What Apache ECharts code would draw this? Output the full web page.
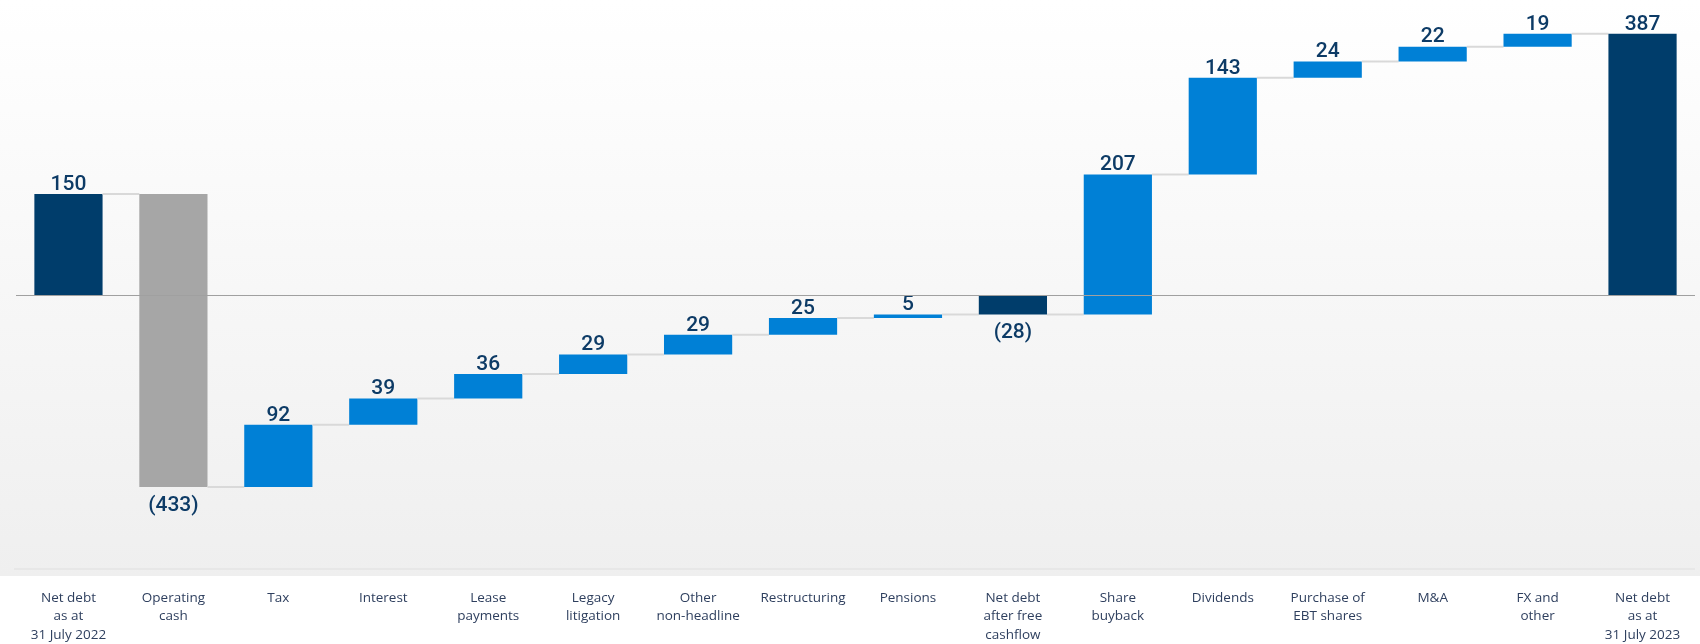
<!DOCTYPE html>
<html>
<head>
<meta charset="utf-8">
<script src="https://cdn.jsdelivr.net/npm/echarts@6/dist/echarts.min.js"></script>
<style>
html,body{margin:0;padding:0;background:#fff;}
#chart{width:1700px;height:644px;}
</style>
</head>
<body>
<div id="chart"></div>
<script>
const categories = [
  'Net debt\nas at\n31 July 2022', 'Operating\ncash', 'Tax', 'Interest', 'Lease\npayments',
  'Legacy\nlitigation', 'Other\nnon-headline', 'Restructuring', 'Pensions',
  'Net debt\nafter free\ncashflow', 'Share\nbuyback', 'Dividends', 'Purchase of\nEBT shares',
  'M&A', 'FX and\nother', 'Net debt\nas at\n31 July 2023'
];
// change values; totals are marked in barTypes
const values = [150, -433, 92, 39, 36, 29, 29, 25, 5, -28, 207, 143, 24, 22, 19, 387];
const barTypes = ['total', 'cash', 'step', 'step', 'step', 'step', 'step', 'step', 'step',
  'total', 'step', 'step', 'step', 'step', 'step', 'total'];

const colors = { total: '#003d6b', cash: '#a6a6a6', step: '#0080d6' };

// build ranges
const rows = [];
let run = 0;
for (let i = 0; i < values.length; i++) {
  let lo, hi;
  if (barTypes[i] === 'total') {
    lo = Math.min(0, values[i]); hi = Math.max(0, values[i]);
    run = values[i];
  } else {
    const start = run; run = run + values[i];
    lo = Math.min(start, run); hi = Math.max(start, run);
  }
  rows.push([i, lo, hi, run, values[i]]);
}

function fmt(v) { return v < 0 ? '(' + Math.abs(v) + ')' : String(v); }

const chart = echarts.init(document.getElementById('chart'));
chart.setOption({
  animation: false,
  graphic: [
    { type: 'rect', z: -10, silent: true, shape: { x: 0, y: 0, width: 1700, height: 576 },
      style: { fill: new echarts.graphic.LinearGradient(0, 0, 0, 1, [
        { offset: 0, color: '#ffffff' }, { offset: 1, color: '#efefef' }]) } },
    { type: 'line', z: -9, silent: true, shape: { x1: 14, y1: 569, x2: 1695, y2: 569 },
      style: { stroke: '#e4e4e4', lineWidth: 1.5 } }
  ],
  grid: { left: 16, right: 5, top: 25, bottom: 143 },
  xAxis: {
    type: 'category', data: categories,
    axisLine: { show: false }, axisTick: { show: false },
    axisLabel: { margin: 90, color: '#2e3f5e', fontSize: 13.5, lineHeight: 18.5,
      fontFamily: 'Open Sans', interval: 0, verticalAlign: 'top' }
  },
  yAxis: { type: 'value', min: -300, max: 400, show: false, splitLine: { show: false } },
  series: [{
    type: 'custom',
    data: rows,
    encode: { x: 0, y: [1, 2] },
    renderItem: function (params, api) {
      const i = api.value(0);
      const lo = api.value(1), hi = api.value(2), level = api.value(3), v = api.value(4);
      const band = api.size([1, 0])[0];
      const w = band * 0.65;
      const pTop = api.coord([i, hi]);
      const pBot = api.coord([i, lo]);
      const children = [{
        type: 'rect',
        shape: { x: pTop[0] - w / 2, y: pTop[1], width: w, height: Math.max(pBot[1] - pTop[1], 2) },
        style: { fill: colors[barTypes[i]] }
      }];
      if (i < values.length - 1) {
        const pl = api.coord([i, level]);
        children.push({
          type: 'line',
          shape: { x1: pl[0] + w / 2, y1: pl[1], x2: pl[0] + band - w / 2, y2: pl[1] },
          style: { stroke: '#d9d9d9', lineWidth: 2 }
        });
      }
      const neg = v < 0;
      children.push({
        type: 'text',
        style: {
          text: fmt(v),
          x: pTop[0],
          y: neg ? pBot[1] + 8 : pTop[1] + 1,
          align: 'center',
          verticalAlign: neg ? 'top' : 'bottom',
          fill: '#0d3b66',
          font: '500 21px Roboto'
        }
      });
      return { type: 'group', children: children };
    },
    markLine: {
      silent: true, symbol: 'none', label: { show: false },
      lineStyle: { color: '#a0a0a0', width: 1.2, type: 'solid' },
      data: [{ yAxis: 0 }]
    }
  }]
});
</script>
</body>
</html>
